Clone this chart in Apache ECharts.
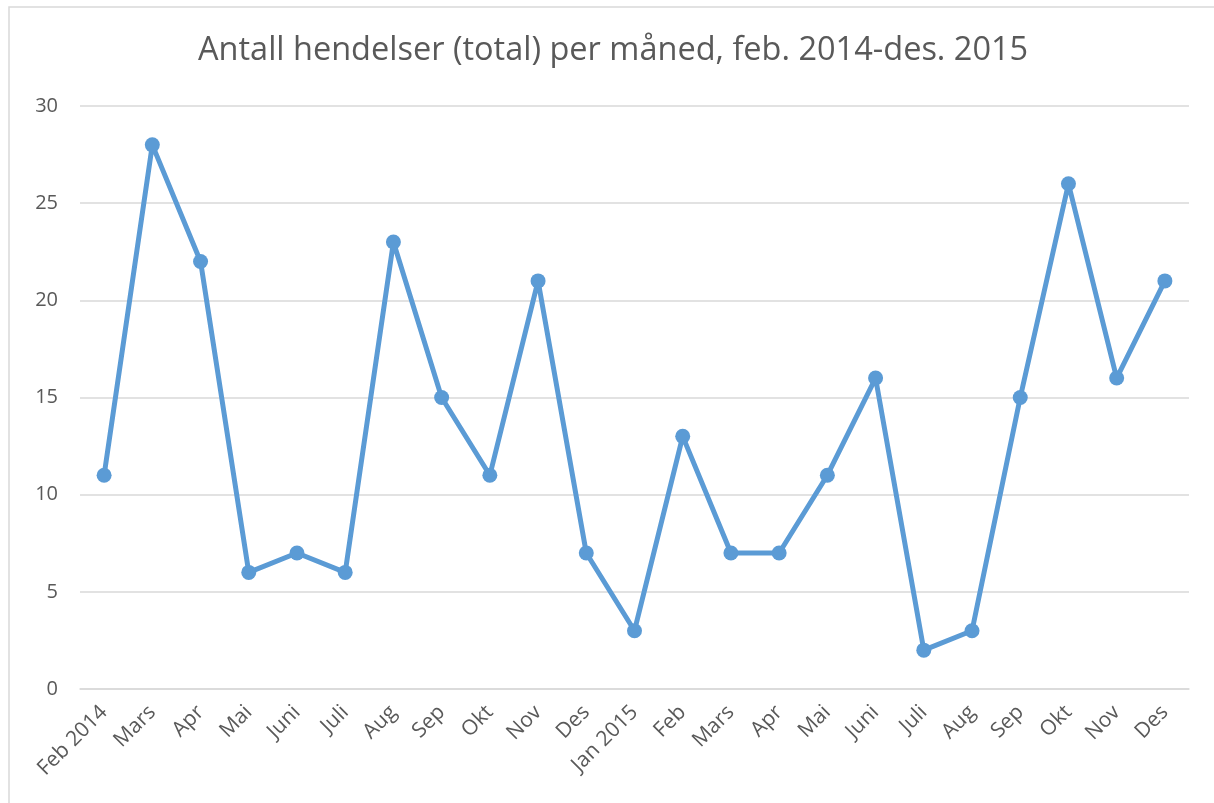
<!DOCTYPE html>
<html>
<head>
<meta charset="utf-8">
<script src="https://cdn.jsdelivr.net/npm/echarts@6/dist/echarts.min.js"></script>
<style>
  html, body { margin: 0; padding: 0; background: #fff; }
  #chart { width: 1214px; height: 803px; }
</style>
</head>
<body>
<div id="chart"></div>
<script>
const months = ['Feb 2014', 'Mars', 'Apr', 'Mai', 'Juni', 'Juli', 'Aug', 'Sep', 'Okt', 'Nov', 'Des',
  'Jan 2015', 'Feb', 'Mars', 'Apr', 'Mai', 'Juni', 'Juli', 'Aug', 'Sep', 'Okt', 'Nov', 'Des']
const hendelser = [11, 28, 22, 6, 7, 6, 23, 15, 11, 21, 7, 3, 13, 7, 7, 11, 16, 2, 3, 15, 26, 16, 21]
const titleText = 'Antall hendelser (total) per måned, feb. 2014-des. 2015'

const myChart = echarts.init(document.getElementById('chart'))
const options = {
  backgroundColor: '#fff',
  textStyle: { fontFamily: 'Open Sans' },
  // ramme rundt diagrammet
  graphic: [{
    type: 'rect',
    shape: { x: 9, y: 7, width: 1300, height: 900 },
    style: { fill: 'none', stroke: '#d9d9d9', lineWidth: 1.5 },
    silent: true
  }],
  title: {
    text: titleText,
    left: 193,
    top: 29,
    textStyle: { color: '#595959', fontSize: 32.5, fontWeight: 'normal', fontFamily: 'Open Sans' }
  },
  grid: {
    left: 80,
    right: 25,
    top: 106,
    bottom: 114
  },
  xAxis: {
    type: 'category',
    data: months,
    boundaryGap: true,
    axisLine: { show: true, lineStyle: { color: '#d9d9d9', width: 1.5 } },
    axisTick: { show: false },
    axisLabel: {
      rotate: 45,
      interval: 0,
      color: '#595959',
      fontSize: 21,
      margin: 20
    }
  },
  yAxis: {
    type: 'value',
    min: 0,
    max: 30,
    interval: 5,
    axisLine: { show: false },
    axisTick: { show: false },
    splitLine: { lineStyle: { color: '#d9d9d9', width: 1.5 } },
    axisLabel: { color: '#595959', fontSize: 20, margin: 22 }
  },
  series: [{
    type: 'line',
    data: hendelser,
    symbol: 'circle',
    symbolSize: 15,
    lineStyle: { color: '#5b9bd5', width: 5 },
    itemStyle: { color: '#5b9bd5' }
  }]
}
myChart.setOption(options)
</script>
</body>
</html>
